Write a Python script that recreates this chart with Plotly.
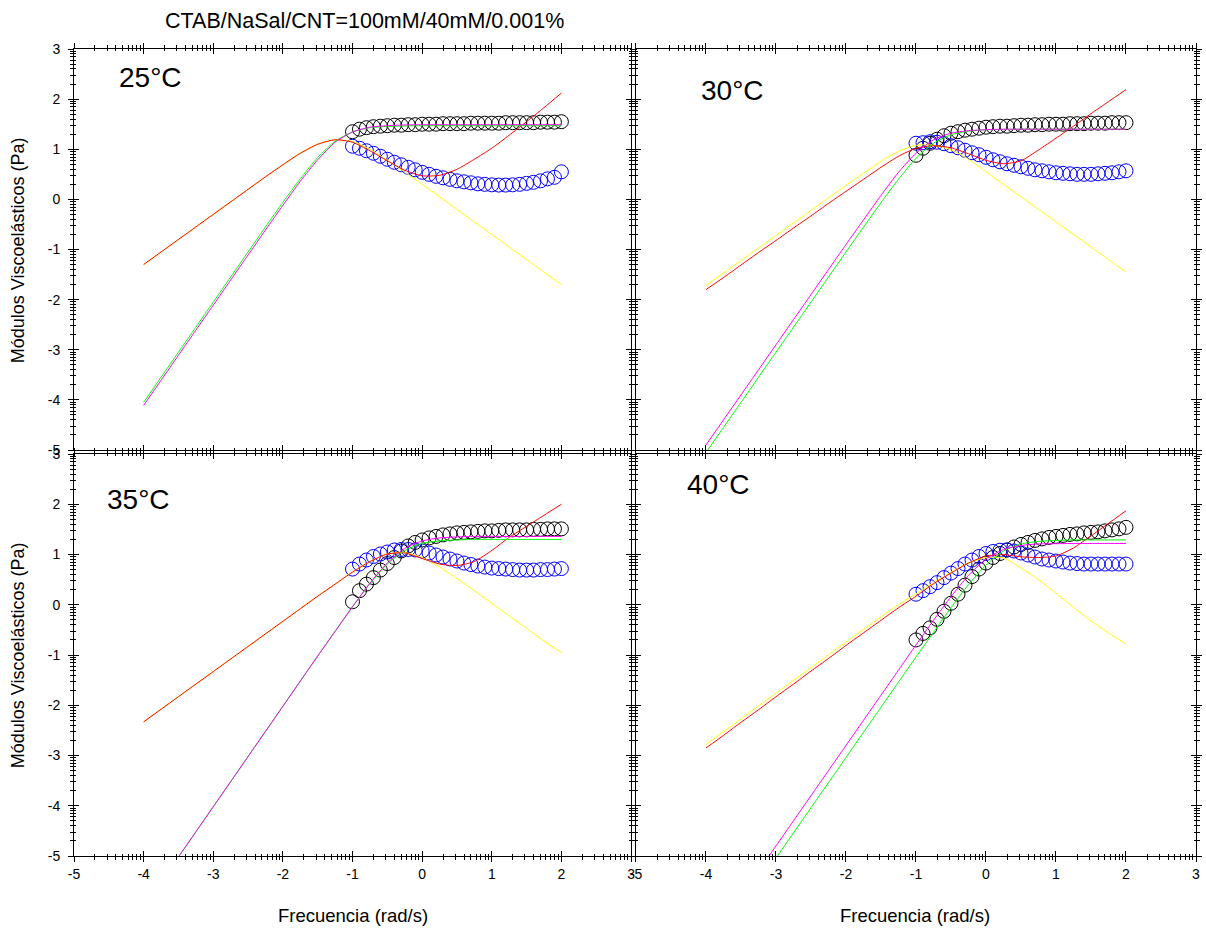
import numpy as np
import plotly.graph_objects as go

# ---------------- data (log10 values) ----------------
X_DATA = [-1.0, -0.9, -0.8, -0.7, -0.6, -0.5, -0.4, -0.3, -0.2, -0.1, 0.0,
          0.1, 0.2, 0.3, 0.4, 0.5, 0.6, 0.7, 0.8, 0.9, 1.0,
          1.1, 1.2, 1.3, 1.4, 1.5, 1.6, 1.7, 1.8, 1.9, 2.0]
LINE_X = [-4.0, -3.75, -3.5, -3.25, -3.0, -2.75, -2.5, -2.25, -2.0, -1.75, -1.5,
          -1.25, -1.0, -0.75, -0.5, -0.25, 0.0, 0.25, 0.5, 0.75, 1.0, 1.25,
          1.5, 1.75, 2.0]

TEMPS = ["25°C", "30°C", "35°C", "40°C"]

# 25 °C
GP_25 = [1.35, 1.40, 1.43, 1.45, 1.46, 1.47, 1.48, 1.48, 1.49, 1.49, 1.50, 1.50, 1.50, 1.51, 1.51,
         1.51, 1.51, 1.52, 1.52, 1.52, 1.52, 1.52, 1.53, 1.53, 1.53, 1.53, 1.53, 1.54, 1.54, 1.54, 1.55]
GPP_25 = [1.06, 1.02, 0.97, 0.92, 0.86, 0.80, 0.74, 0.69, 0.64, 0.59, 0.54, 0.50, 0.46, 0.43, 0.40,
          0.37, 0.35, 0.33, 0.31, 0.30, 0.29, 0.285, 0.285, 0.29, 0.30, 0.32, 0.34, 0.37, 0.41, 0.44, 0.55]
YEL_25 = [-1.30, -1.05, -0.80, -0.55, -0.30, -0.05, 0.20, 0.45, 0.69, 0.92, 1.10, 1.19, 1.155,
          1.00, 0.78, 0.545, 0.30, 0.05, -0.20, -0.45, -0.70, -0.95, -1.20, -1.45, -1.70]
RED_25 = [-1.30, -1.05, -0.80, -0.55, -0.30, -0.05, 0.20, 0.45, 0.69, 0.92, 1.10, 1.19, 1.14,
          0.97, 0.77, 0.58, 0.47, 0.48, 0.60, 0.80, 1.02, 1.28, 1.55, 1.83, 2.12]
GRN_25 = [-4.05, -3.55, -3.05, -2.55, -2.05, -1.55, -1.05, -0.55, -0.06, 0.41, 0.835, 1.16, 1.345,
          1.43, 1.455, 1.465, 1.47, 1.47, 1.47, 1.47, 1.47, 1.47, 1.47, 1.47, 1.47]
MAG_25 = [-4.11, -3.61, -3.11, -2.61, -2.11, -1.61, -1.11, -0.61, -0.12, 0.36, 0.79, 1.14, 1.345,
          1.44, 1.47, 1.485, 1.49, 1.49, 1.49, 1.49, 1.49, 1.49, 1.49, 1.49, 1.49]

# 30 °C
GP_30 = [0.88, 1.02, 1.12, 1.20, 1.27, 1.32, 1.35, 1.38, 1.40, 1.42, 1.44, 1.45, 1.46, 1.46, 1.47,
         1.48, 1.48, 1.49, 1.49, 1.50, 1.50, 1.50, 1.51, 1.51, 1.51, 1.52, 1.52, 1.52, 1.53, 1.53, 1.53]
GPP_30 = [1.12, 1.13, 1.15, 1.14, 1.11, 1.07, 1.03, 0.98, 0.93, 0.89, 0.84, 0.79, 0.75, 0.71, 0.68,
          0.65, 0.62, 0.59, 0.57, 0.55, 0.53, 0.52, 0.51, 0.50, 0.50, 0.50, 0.51, 0.52, 0.53, 0.55, 0.57]
YEL_30 = [-1.72, -1.47, -1.22, -0.97, -0.72, -0.47, -0.22, 0.03, 0.28, 0.52, 0.76, 0.96, 1.08,
          1.08, 0.99, 0.80, 0.55, 0.30, 0.05, -0.20, -0.45, -0.70, -0.95, -1.20, -1.45]
RED_30 = [-1.80, -1.56, -1.31, -1.06, -0.82, -0.57, -0.33, -0.08, 0.16, 0.40, 0.64, 0.86, 1.02,
          1.07, 1.03, 0.91, 0.78, 0.71, 0.77, 0.985, 1.22, 1.46, 1.71, 1.95, 2.19]
GRN_30 = [-5.05, -4.55, -4.05, -3.55, -3.05, -2.55, -2.05, -1.55, -1.05, -0.555, -0.065, 0.40, 0.82,
          1.12, 1.29, 1.36, 1.39, 1.395, 1.40, 1.40, 1.40, 1.40, 1.40, 1.40, 1.40]
MAG_30 = [-4.90, -4.40, -3.90, -3.40, -2.90, -2.40, -1.90, -1.40, -0.90, -0.41, 0.08, 0.54, 0.92,
          1.19, 1.32, 1.37, 1.39, 1.40, 1.40, 1.40, 1.40, 1.40, 1.40, 1.40, 1.40]

# 35 °C
GP_35 = [0.06, 0.28, 0.41, 0.54, 0.69, 0.82, 0.94, 1.07, 1.17, 1.24, 1.29, 1.33, 1.36, 1.39, 1.41,
         1.43, 1.44, 1.45, 1.46, 1.47, 1.47, 1.48, 1.49, 1.49, 1.49, 1.49, 1.50, 1.50, 1.51, 1.51, 1.51]
GPP_35 = [0.71, 0.81, 0.89, 0.96, 1.01, 1.05, 1.09, 1.10, 1.10, 1.09, 1.07, 1.03, 0.99, 0.95, 0.91,
          0.87, 0.83, 0.80, 0.77, 0.75, 0.73, 0.72, 0.71, 0.70, 0.69, 0.69, 0.69, 0.70, 0.70, 0.71, 0.72]
YEL_35 = [-2.33, -2.08, -1.83, -1.58, -1.33, -1.08, -0.83, -0.58, -0.33, -0.08, 0.17, 0.41, 0.65,
          0.86, 1.01, 1.04, 0.94, 0.75, 0.52, 0.28, 0.03, -0.22, -0.47, -0.72, -0.95]
RED_35 = [-2.33, -2.08, -1.83, -1.58, -1.33, -1.08, -0.83, -0.58, -0.33, -0.08, 0.17, 0.41, 0.65,
          0.86, 1.01, 1.03, 0.92, 0.81, 0.78, 0.86, 1.08, 1.34, 1.56, 1.78, 2.00]
GRN_35 = [-6.02, -5.52, -5.02, -4.52, -4.02, -3.52, -3.02, -2.52, -2.02, -1.52, -1.02, -0.53, -0.04,
          0.42, 0.81, 1.08, 1.22, 1.27, 1.29, 1.30, 1.30, 1.30, 1.30, 1.30, 1.30]
MAG_35 = [-6.02, -5.52, -5.02, -4.52, -4.02, -3.52, -3.02, -2.52, -2.02, -1.52, -1.02, -0.53, -0.04,
          0.43, 0.83, 1.12, 1.27, 1.33, 1.35, 1.36, 1.36, 1.36, 1.36, 1.36, 1.36]

# 40 °C
GP_40 = [-0.70, -0.57, -0.46, -0.29, -0.13, 0.03, 0.21, 0.39, 0.56, 0.71, 0.83, 0.94, 1.02, 1.09, 1.15,
         1.20, 1.24, 1.28, 1.31, 1.34, 1.36, 1.38, 1.40, 1.41, 1.43, 1.44, 1.45, 1.47, 1.49, 1.51, 1.54]
GPP_40 = [0.21, 0.28, 0.36, 0.44, 0.54, 0.63, 0.72, 0.81, 0.89, 0.96, 1.02, 1.06, 1.085, 1.09, 1.07,
          1.03, 0.99, 0.95, 0.91, 0.89, 0.87, 0.85, 0.83, 0.82, 0.81, 0.81, 0.81, 0.81, 0.81, 0.81, 0.81]
YEL_40 = [-2.78, -2.525, -2.27, -2.015, -1.76, -1.505, -1.25, -0.995, -0.74, -0.49, -0.24, 0.0, 0.22,
          0.44, 0.65, 0.83, 0.94, 0.93, 0.73, 0.50, 0.23, -0.05, -0.32, -0.56, -0.78]
RED_40 = [-2.85, -2.60, -2.34, -2.09, -1.83, -1.58, -1.32, -1.07, -0.81, -0.56, -0.31, -0.06, 0.17,
          0.42, 0.63, 0.83, 0.97, 0.995, 0.955, 0.94, 0.97, 1.13, 1.37, 1.62, 1.87]
GRN_40 = [-7.04, -6.54, -6.04, -5.54, -5.04, -4.54, -4.04, -3.54, -3.04, -2.54, -2.04, -1.54, -1.04,
          -0.55, -0.06, 0.40, 0.79, 1.07, 1.21, 1.26, 1.28, 1.29, 1.29, 1.29, 1.29]
MAG_40 = [-6.80, -6.30, -5.80, -5.30, -4.80, -4.30, -3.80, -3.30, -2.80, -2.30, -1.80, -1.30, -0.80,
          -0.31, 0.16, 0.585, 0.91, 1.10, 1.18, 1.21, 1.215, 1.22, 1.22, 1.22, 1.22]

TICK_VALS = [-5, -4, -3, -2, -1, 0, 1, 2, 3]
TICK_TEXT = ["-5", "-4", "-3", "-2", "-1", "0", "1", "2", "3"]

PANELS = [
    (GP_25, GPP_25, YEL_25, RED_25, GRN_25, MAG_25),
    (GP_30, GPP_30, YEL_30, RED_30, GRN_30, MAG_30),
    (GP_35, GPP_35, YEL_35, RED_35, GRN_35, MAG_35),
    (GP_40, GPP_40, YEL_40, RED_40, GRN_40, MAG_40),
]

# ---------------- layout geometry ----------------
W, H = 1206, 928
ML, MR, MT, MB = 74, 4, 49, 72
PW, PH = W - ML - MR, H - MT - MB
XDOM = [[0.0, (634 - ML) / PW], [(639 - ML) / PW, 1.0]]
YDOM = [[(856 - 450) / PH, 1.0], [0.0, (856 - 454) / PH]]

FONT = "Liberation Sans, Arial, Helvetica, sans-serif"
OFFS = np.log10(np.arange(2, 10))
MINOR_VALS = [float(k + o) for k in range(-5, 3) for o in OFFS]

fig = go.Figure()

for i, (gp, gpp, yel, red, grn, mag) in enumerate(PANELS):
    n = i + 1
    xa = "x" if n == 1 else f"x{n}"
    ya = "y" if n == 1 else f"y{n}"
    fig.add_trace(go.Scatter(x=X_DATA, y=gp, mode="markers", xaxis=xa, yaxis=ya,
                             marker=dict(symbol="circle-open", size=14, color="#000000",
                                         line=dict(width=1, color="#000000")),
                             showlegend=False, hoverinfo="skip"))
    fig.add_trace(go.Scatter(x=X_DATA, y=gpp, mode="markers", xaxis=xa, yaxis=ya,
                             marker=dict(symbol="circle-open", size=14, color="#0000FF",
                                         line=dict(width=1, color="#0000FF")),
                             showlegend=False, hoverinfo="skip"))
    for vals, col in ((yel, "#FFFF00"), (red, "#FF0000"), (grn, "#00FF00"), (mag, "#FF00FF")):
        fig.add_trace(go.Scatter(x=LINE_X, y=vals, mode="lines", xaxis=xa, yaxis=ya,
                                 line=dict(color=col, width=1, shape="spline", smoothing=0.6),
                                 showlegend=False, hoverinfo="skip"))
    # dummy trace for the overlay (inside-tick) axes
    fig.add_trace(go.Scatter(x=[None], y=[None], mode="lines", xaxis=f"x{n+4}", yaxis=f"y{n+4}",
                             showlegend=False, hoverinfo="skip"))

layout = dict(
    width=W, height=H,
    margin=dict(l=ML, r=MR, t=MT, b=MB, pad=0),
    paper_bgcolor="white", plot_bgcolor="white",
    font=dict(family=FONT, color="black", size=14),
    showlegend=False,
)

for i in range(4):
    n = i + 1
    col, row = i % 2, i // 2
    xkey = "xaxis" if n == 1 else f"xaxis{n}"
    ykey = "yaxis" if n == 1 else f"yaxis{n}"
    ya = "y" if n == 1 else f"y{n}"
    xa = "x" if n == 1 else f"x{n}"
    common = dict(range=[-5, 3], tickmode="array", tickvals=TICK_VALS, ticktext=TICK_TEXT,
                  showgrid=False, zeroline=False, showline=True, linecolor="black", linewidth=1,
                  mirror="ticks", ticks="outside", ticklen=5, tickwidth=1, tickcolor="black",
                  tickfont=dict(family=FONT, size=14, color="black"),
                  minor=dict(tickmode="array", tickvals=MINOR_VALS, ticks="outside",
                             ticklen=3, tickwidth=1, tickcolor="black", showgrid=False))
    layout[xkey] = dict(common, domain=XDOM[col], anchor=ya, showticklabels=(row == 1),
                        ticklabelstandoff=0)
    layout[ykey] = dict(common, domain=YDOM[row], anchor=xa, showticklabels=(col == 0),
                        ticklabelstandoff=5)
    inside = dict(range=[-5, 3], tickmode="array", tickvals=TICK_VALS, showgrid=False,
                  zeroline=False, showline=False, mirror="ticks", ticks="inside", ticklen=5,
                  tickwidth=1, tickcolor="black", showticklabels=False,
                  minor=dict(tickmode="array", tickvals=MINOR_VALS, ticks="inside",
                             ticklen=2, tickwidth=1, tickcolor="black", showgrid=False))
    layout[f"xaxis{n+4}"] = dict(inside, overlaying=xa, anchor=f"y{n+4}")
    layout[f"yaxis{n+4}"] = dict(inside, overlaying=ya, anchor=f"x{n+4}")

fig.update_layout(**layout)

def px(x):
    return (x - ML) / PW

def py(y):
    return (H - MB - y) / PH

annots = [
    dict(text="CTAB/NaSal/CNT=100mM/40mM/0.001%", x=px(366), y=py(21), size=21.5),
    dict(text="25°C", x=px(151), y=py(78), size=28),
    dict(text="30°C", x=px(736), y=py(91), size=28),
    dict(text="35°C", x=px(139), y=py(499), size=28),
    dict(text="40°C", x=px(722), y=py(484), size=28),
    dict(text="Frecuencia (rad/s)", x=px(354), y=py(915), size=18.5),
    dict(text="Frecuencia (rad/s)", x=px(919), y=py(915), size=18.5),
]
for a in annots:
    fig.add_annotation(text=a["text"], x=a["x"], y=a["y"], xref="paper", yref="paper",
                       showarrow=False, xanchor="center", yanchor="middle",
                       font=dict(family=FONT, size=a["size"], color="black"))
for yc in (250, 655):
    fig.add_annotation(text="Módulos Viscoelásticos (Pa)", x=px(18), y=py(yc), xref="paper",
                       yref="paper", showarrow=False, textangle=-90, xanchor="center",
                       yanchor="middle", font=dict(family=FONT, size=18, color="black"))

fig.write_html("out.html")
